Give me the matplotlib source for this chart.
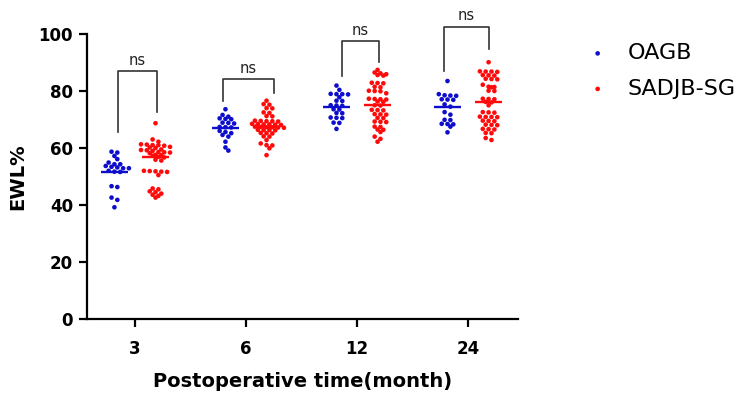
import numpy as np
import matplotlib
matplotlib.use("Agg")
import matplotlib.pyplot as plt

plt.rcParams['font.family'] = ['DejaVu Sans']

# ---------------- data ----------------
categories = ["3", "6", "12", "24"]
series_names = ["OAGB", "SADJB-SG"]

oagb_3 = [58.4, 58.7, 57.2, 56.1, 54.9, 54.3, 54.3, 53.2, 53.7, 53.4, 52.9, 52.9,
          51.7, 51.6, 52.0, 46.6, 46.3, 42.6, 41.8, 39.2]
sadjb_3 = [68.7, 63.0, 62.2, 61.3, 61.0, 61.0, 60.8, 61.2, 60.2, 60.0, 60.4, 59.3,
           59.5, 59.2, 59.0, 58.4, 58.6, 58.2, 58.5, 57.5, 57.3, 57.6, 56.9, 56.7,
           55.9, 55.6, 52.0, 51.8, 51.6, 51.9, 51.7, 50.5, 45.8, 45.5, 44.8, 44.5,
           44.0, 43.6, 43.2, 42.6]

oagb_6 = [73.6, 71.0, 71.6, 70.4, 70.2, 70.1, 68.9, 68.8, 68.6, 67.4, 67.2, 67.3,
          66.0, 65.6, 65.2, 64.6, 64.0, 62.2, 60.2, 59.1]
sadjb_6 = [76.6, 75.2, 75.4, 73.9, 74.0, 72.5, 72.3, 71.1, 71.2, 69.4, 69.5, 69.3,
           69.4, 69.6, 68.3, 68.4, 68.2, 68.3, 68.5, 68.1, 67.3, 67.4, 67.2, 67.3,
           67.5, 67.1, 66.3, 66.4, 66.2, 66.3, 65.2, 65.3, 65.1, 64.0, 64.1, 62.8,
           61.6, 61.0, 60.9, 59.9, 57.5]

oagb_12 = [81.9, 80.4, 78.9, 79.0, 78.8, 78.9, 77.8, 76.6, 76.5, 74.9, 75.0, 74.8,
           73.6, 73.5, 72.3, 72.2, 70.6, 70.7, 70.5, 68.8, 68.9, 66.7]
sadjb_12 = [87.4, 86.5, 86.2, 85.9, 85.4, 85.6, 82.8, 82.9, 82.7, 81.5, 81.3, 80.0,
            80.1, 79.9, 79.2, 77.2, 77.3, 77.1, 77.0, 76.3, 76.2, 75.0, 74.9, 73.3,
            73.4, 73.2, 71.8, 71.9, 71.7, 70.6, 70.5, 69.2, 69.3, 69.1, 67.5, 67.4,
            66.5, 66.4, 65.6, 64.0, 63.2, 62.2]

oagb_24 = [83.5, 78.9, 78.4, 78.5, 78.3, 77.0, 77.1, 76.9, 75.3, 74.5, 72.6, 71.7,
           69.8, 69.9, 68.4, 68.5, 68.3, 67.5, 65.5]
sadjb_24 = [90.1, 86.8, 86.9, 86.7, 86.8, 85.5, 85.6, 85.4, 84.2, 84.3, 84.1, 82.2,
            81.4, 81.5, 81.3, 80.0, 80.1, 77.2, 77.3, 77.1, 76.2, 76.0, 75.0, 72.5,
            72.6, 72.4, 70.9, 71.0, 70.8, 70.9, 69.5, 69.6, 69.4, 68.1, 68.2, 68.0,
            66.6, 66.7, 66.5, 65.2, 65.3, 63.5, 62.8]

oagb_groups = [oagb_3, oagb_6, oagb_12, oagb_24]
sadjb_groups = [sadjb_3, sadjb_6, sadjb_12, sadjb_24]

# centre lines
oagb_center = [51.6, 67.0, 74.4, 74.4]
sadjb_center = [56.8, 67.4, 75.1, 76.1]

# significance brackets: leg positions (category units), leg bottoms, top
bracket_x_left = [-0.153, -0.207, -0.135, -0.216]
bracket_x_right = [0.198, 0.252, 0.198, 0.189]
bracket_left = [65.6, 76.5, 85.3, 87.0]
bracket_right = [72.6, 79.3, 90.2, 94.7]
bracket_top = [87.0, 84.2, 97.5, 102.5]
bracket_text = ["ns", "ns", "ns", "ns"]

# ---------------- figure ----------------
W, H = 750, 397
fig = plt.figure(figsize=(W / 100, H / 100), dpi=100)
ax_l, ax_r, ax_b, ax_t = 87, 518, 319, 34
ax = fig.add_axes([ax_l / W, 1 - ax_b / H, (ax_r - ax_l) / W, (ax_b - ax_t) / H])

xmin, xmax = -0.432, 3.45
ax.set_xlim(xmin, xmax)
ax.set_ylim(0, 100)

px_per_x = (ax_r - ax_l) / (xmax - xmin)

blue = "#0D0DCC"
red = "#FF0A0A"
offset = 0.185
half_line = 0.125
row_tol = 0.9      # values closer than this share a row
spacing_px = 5.8   # horizontal spacing of dots in a row
near_rows = 1.6    # rows closer than this (value units) get staggered
dot_s = 11


def row_layout(values):
    vals = np.asarray(values, float)
    order = np.argsort(-vals)
    xs = np.zeros(len(vals))
    rows = []
    for i in order:
        if rows and vals[rows[-1][0]] - vals[i] <= row_tol:
            rows[-1].append(i)
        else:
            rows.append([i])
    prev_pos = None
    prev_val = None
    for r in rows:
        n = len(r)
        pos = np.array([(k - (n - 1) / 2.0) * spacing_px for k in range(n)])
        rv = np.mean(vals[r])
        if prev_pos is not None and prev_val - rv < near_rows:
            # stagger if dots would sit straight above each other
            if np.min(np.abs(pos[:, None] - prev_pos[None, :])) < spacing_px / 4:
                pos = pos + spacing_px / 2.0
        for k, i in enumerate(r):
            xs[i] = pos[k]
        prev_pos, prev_val = pos, rv
    return xs / px_per_x


for gi in range(len(categories)):
    for vals, cen, sgn, col in [(oagb_groups[gi], oagb_center[gi], -1, blue),
                                (sadjb_groups[gi], sadjb_center[gi], 1, red)]:
        xc = gi + sgn * offset
        xo = row_layout(vals)
        ax.scatter(xc + xo, vals, s=dot_s, color=col, edgecolors='none', zorder=3,
                   clip_on=False)
        ax.plot([xc - half_line, xc + half_line], [cen, cen], color=col, lw=1.7,
                zorder=4, solid_capstyle='butt')

    # bracket
    xl = gi + bracket_x_left[gi]
    xr = gi + bracket_x_right[gi]
    ax.plot([xl, xl, xr, xr],
            [bracket_left[gi], bracket_top[gi], bracket_top[gi], bracket_right[gi]],
            color="#333333", lw=1.2, clip_on=False, zorder=2)
    ax.annotate(bracket_text[gi], xy=((xl + xr) / 2, bracket_top[gi]),
                xytext=(0, 2.5), textcoords='offset points', ha='center',
                va='bottom', fontsize=10.5, color="#222222",
                annotation_clip=False)

# axes styling
for s in ['top', 'right']:
    ax.spines[s].set_visible(False)
for s in ['left', 'bottom']:
    ax.spines[s].set_linewidth(1.6)
ax.set_xticks(range(len(categories)))
ax.set_xticklabels(categories)
ax.set_yticks([0, 20, 40, 60, 80, 100])
ax.tick_params(axis='both', direction='out', length=6, width=1.6, labelsize=12)
ax.tick_params(axis='x', pad=9)
ax.tick_params(axis='y', pad=4)
for lab in ax.get_xticklabels() + ax.get_yticklabels():
    lab.set_fontweight('bold')

ax.set_xlabel("Postoperative time(month)", fontsize=14, fontweight='bold',
              labelpad=10)
ax.set_ylabel("EWL%", fontsize=14, fontweight='bold', labelpad=8)

# legend
h1 = ax.scatter([], [], s=dot_s, color=blue, edgecolors='none')
h2 = ax.scatter([], [], s=dot_s, color=red, edgecolors='none')
leg = fig.legend([h1, h2], series_names, loc='center left',
                 bbox_to_anchor=(581 / W, 1 - 71 / H), frameon=False,
                 fontsize=16, handletextpad=0.6, labelspacing=0.7,
                 handlelength=1.5, borderpad=0, borderaxespad=0)

fig.savefig("out.png", dpi=100)
